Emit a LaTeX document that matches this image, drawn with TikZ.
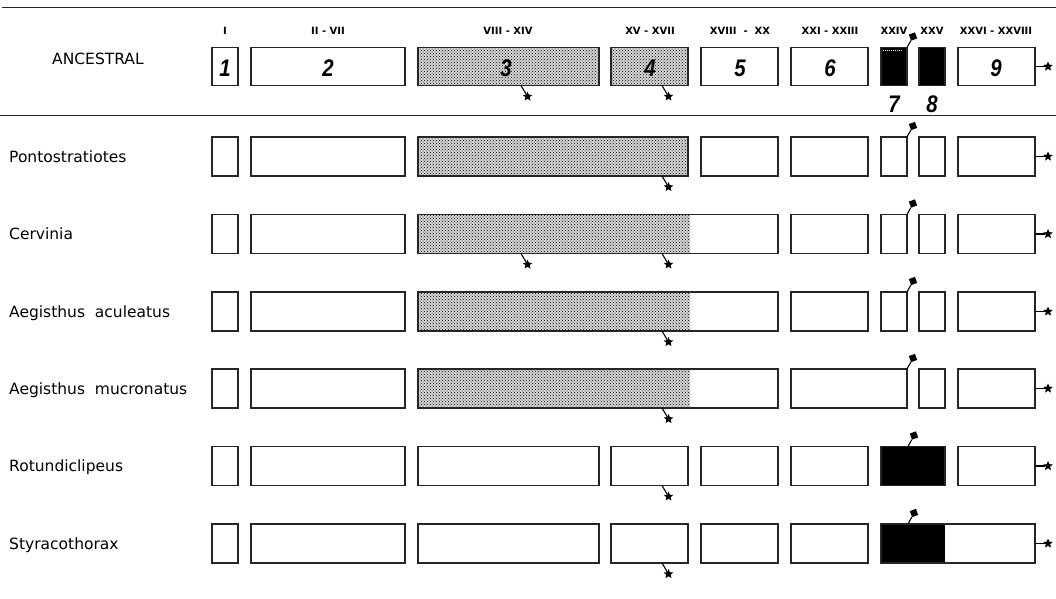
\documentclass[tikz,border=0pt]{standalone}
\usepackage{fontspec}
\setmainfont{DejaVu Sans}
\newfontfamily\numfont[FakeStretch=0.85]{Liberation Sans}
\usetikzlibrary{patterns,shapes.geometric}
\def\rt{0}\def\rb{0}\def\rh{39}
\tikzset{
  box/.style={draw=black!85,line width=1.1pt,anchor=north west,inner sep=0pt,outer sep=0pt,minimum height=\rh},
  starm/.style={star,star points=5,star point ratio=2.2,fill=black,inner sep=0pt,minimum size=10pt},
  sqm/.style={rectangle,fill=black,inner sep=0pt,minimum size=6.5pt,rotate=20},
  pin/.style={line width=1.1pt},
  lab/.style={anchor=base west,inner sep=0pt,font=\fontsize{15.5}{18}\selectfont},
  hdr/.style={anchor=base,inner sep=0pt,font=\bfseries\fontsize{10}{11}\selectfont},
  num/.style={anchor=base,inner sep=0pt,font=\numfont\bfseries\itshape\fontsize{24}{26}\selectfont},
  rule/.style={draw=black!85},
}
\newcommand\gbox[4][]{\node[box,minimum width={#4-#3},#1] (#2) at (#3,\rt) {};}
\newcommand\stip[2]{\fill[black!16] (#1,\rt) rectangle (#2,\rb);
  \fill[pattern=crosshatch dots,pattern color=black] (#1,\rt) rectangle (#2,\rb);}
\newcommand\starb[2]{\coordinate (#1o) at (#2,\rb);
  \node[starm] (#1) at ({#2+6.5},{\rb+11}) {}; \draw[pin] (#1o) -- (#1);}
\newcommand\starr[2]{\node[starm] (#1) at (1048,{(\rt+\rb)/2}) {}; \draw[pin] (#2.east) -- (#1);}
\newcommand\sqr[2]{\coordinate (#1o) at (#2,\rt);
  \node[sqm] (#1) at ({#2+6},{\rt-11}) {}; \draw[pin] (#1o) -- (#1);}
\begin{document}
\begin{tikzpicture}[x=1pt,y=-1pt]
\useasboundingbox (0,0) rectangle (1056,598);
\draw[rule,line width=1.4pt] (2,7.5) -- (1056,7.5);
\draw[rule,line width=1pt] (0,115.5) -- (1056,115.5);
% headers
\foreach \t/\x [count=\i] in {I/225,II - VII/328,VIII - XIV/508,XV - XVII/650,XVIII\ \ -\ \ XX/740,XXI - XXIII/830,XXIV/894,XXV/932,XXVI - XXVIII/996}
  \node[hdr] (h\i) at (\x,34.5) {\t};
% ANCESTRAL
\def\rt{47.5}\def\rb{85.5}\def\rh{38}
\node[lab] (lanc) at (52,64.5) {ANCESTRAL};
\stip{418}{599}\stip{611}{688}
\gbox{a1}{212}{238}\gbox{a2}{251}{405}\gbox{a3}{418}{599}\gbox{a4}{611}{688}
\gbox{a5}{701}{778}\gbox{a6}{791}{868}\gbox[fill=black]{a7}{881}{907}\gbox[fill=black]{a8}{919}{945}
\gbox{a9}{958}{1035}
\draw[white,line width=1pt,dash pattern=on 1pt off 1pt] (883,50) -- (903,50);
\node[num] (n1) at (225,76) {1};
\node[num] (n2) at (328,76) {2};
\node[num] (n3) at (506,76) {3};
\node[num] (n4) at (650,76) {4};
\node[num] (n5) at (740,76) {5};
\node[num] (n6) at (830,76) {6};
\node[num] (n7) at (894,112) {7};
\node[num] (n8) at (932,112) {8};
\node[num] (n9) at (996,76) {9};
\starb{as3}{521}\starb{as4}{662}\starr{as9}{a9}\sqr{aq}{907}
\def\rh{39}
% Pontostratiotes
\def\rt{137}\def\rb{176}
\node[lab] (l1) at (9,162) {Pontostratiotes};
\stip{418}{688}
\gbox{p1}{212}{238}\gbox{p2}{251}{405}\gbox{p3}{418}{688}\gbox{p5}{701}{778}
\gbox{p6}{791}{868}\gbox{p7}{881}{907}\gbox{p8}{919}{945}\gbox{p9}{958}{1035}
\starb{ps4}{662}\starr{ps9}{p9}\sqr{pq}{907}
% Cervinia
\def\rt{214.5}\def\rb{253.5}
\node[lab] (l2) at (9,239.5) {Cervinia};
\stip{418}{690}
\gbox{c1}{212}{238}\gbox{c2}{251}{405}\gbox{c3}{418}{778}
\gbox{c6}{791}{868}\gbox{c7}{881}{907}\gbox{c8}{919}{945}\gbox{c9}{958}{1035}
\starb{cs3}{521}\starb{cs4}{662}\starr{cs9}{c9}\sqr{cq}{907}
% Aegisthus aculeatus
\def\rt{292}\def\rb{331}
\node[lab] (l3) at (9,317) {Aegisthus\ \ aculeatus};
\stip{418}{690}
\gbox{e1}{212}{238}\gbox{e2}{251}{405}\gbox{e3}{418}{778}
\gbox{e6}{791}{868}\gbox{e7}{881}{907}\gbox{e8}{919}{945}\gbox{e9}{958}{1035}
\starb{es4}{662}\starr{es9}{e9}\sqr{eq}{907}
% Aegisthus mucronatus
\def\rt{369}\def\rb{408}
\node[lab] (l4) at (9,394) {Aegisthus\ \ mucronatus};
\stip{418}{690}
\gbox{m1}{212}{238}\gbox{m2}{251}{405}\gbox{m3}{418}{778}
\gbox{m6}{791}{907}\gbox{m8}{919}{945}\gbox{m9}{958}{1035}
\starb{ms4}{662}\starr{ms9}{m9}\sqr{mq}{907}
% Rotundiclipeus
\def\rt{446.5}\def\rb{485.5}
\node[lab] (l5) at (9,471.5) {Rotundiclipeus};
\gbox{r1}{212}{238}\gbox{r2}{251}{405}\gbox{r3}{418}{599}\gbox{r4}{611}{688}
\gbox{r5}{701}{778}\gbox{r6}{791}{868}\gbox[fill=black]{r7}{881}{945}\gbox{r9}{958}{1035}
\starb{rs4}{662}\starr{rs9}{r9}\sqr{rq}{908}
% Styracothorax
\def\rt{524}\def\rb{563}
\node[lab] (l6) at (9,549) {Styracothorax};
\fill[black] (881,\rt) rectangle (945,\rb);
\gbox{s1}{212}{238}\gbox{s2}{251}{405}\gbox{s3}{418}{599}\gbox{s4}{611}{688}
\gbox{s5}{701}{778}\gbox{s6}{791}{868}\gbox{s7}{881}{1035}
\starb{ss4}{662}\starr{ss9}{s7}\sqr{sq}{908}
\end{tikzpicture}
\end{document}
